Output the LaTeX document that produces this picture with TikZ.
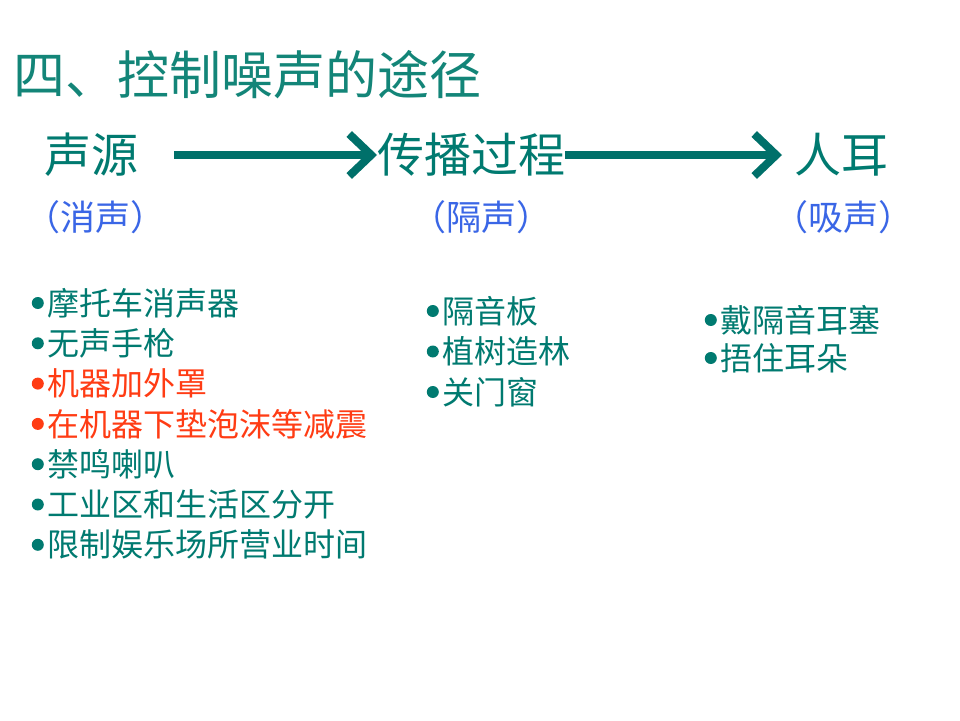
\documentclass[tikz,border=0pt]{standalone}
\usepackage{fontspec}
\setmainfont{Noto Sans CJK SC}
\usetikzlibrary{arrows.meta,positioning}
\definecolor{NzTitle}{HTML}{138578}
\definecolor{NzTeal}{HTML}{007A70}
\definecolor{NzArrow}{HTML}{00706A}
\definecolor{NzRed}{HTML}{FF3C14}
\definecolor{NzBlue}{HTML}{3A66E6}
\tikzset{
  nzBase/.style={
    inner sep=0pt,
    anchor=west
  },
  nzTitle/.style={
    nzBase,
    text=NzTitle,
    font=\fontsize{52pt}{60pt}\selectfont
  },
  nzHead/.style={
    nzBase,
    text=NzTeal,
    font=\fontsize{47pt}{54pt}\selectfont
  },
  nzNote/.style={
    inner sep=0pt,
    text=NzBlue,
    font=\fontsize{35pt}{40pt}\selectfont
  },
  nzItem/.style={
    nzBase,
    font=\fontsize{32pt}{38pt}\selectfont
  },
  nzDot/.style={
    circle,
    inner sep=0pt,
    minimum size=12pt,
    fill=NzTeal
  },
  nzArrow/.style={
    line width=8pt,
    color=NzArrow,
    -{Straight Barb[length=22pt,width=42pt]}
  }
}
\begin{document}
\begin{tikzpicture}[x=1pt, y=-1pt]
  \useasboundingbox[fill=white] (0,0) rectangle (960,720);

  \node (title) [nzTitle] at (13,75) {四、控制噪声的途径};

  % three stages of the noise path
  \node (src) [nzHead] at (44,155) {声源};
  \node (path) [nzHead] at (377,155) {传播过程};
  \node (ear) [nzHead] at (794,155) {人耳};

  \node (srcNote) [nzNote] at (95,217) {（消声）};
  \node (pathNote) [nzNote] at (481,217) {（隔声）};
  \node (earNote) [nzNote] at (843,217) {（吸声）};

  \draw [nzArrow, shorten <=36pt] (src) -- (path);
  \draw [nzArrow, shorten >=12pt] (path) -- (ear);

  % measures at the source
  \foreach \c/\txt [count=\i] in {NzTeal/摩托车消声器, NzTeal/无声手枪, NzRed/机器加外罩,
      NzRed/在机器下垫泡沫等减震, NzTeal/禁鸣喇叭, NzTeal/工业区和生活区分开,
      NzTeal/限制娱乐场所营业时间} {
    \node (a\i) [nzItem, text=\c] at (47,{303+40.3*(\i-1)}) {\txt};
    \node (ad\i) [nzDot, fill=\c, left=3pt of a\i] {};
  }

  % measures along the path
  \foreach \txt [count=\i] in {隔音板, 植树造林, 关门窗} {
    \node (b\i) [nzItem, text=NzTeal] at (442,{311+40.5*(\i-1)}) {\txt};
    \node (bd\i) [nzDot, left=3pt of b\i] {};
  }

  % measures at the ear
  \foreach \txt [count=\i] in {戴隔音耳塞, 捂住耳朵} {
    \node (c\i) [nzItem, text=NzTeal] at (720,{320+38*(\i-1)}) {\txt};
    \node (cd\i) [nzDot, left=3pt of c\i] {};
  }
\end{tikzpicture}
\end{document}
